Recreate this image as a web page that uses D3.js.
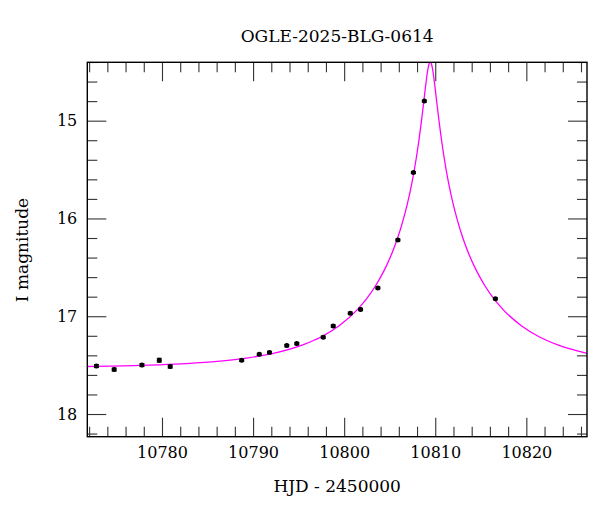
<!DOCTYPE html>
<html>
<head>
<meta charset="utf-8">
<script src="https://cdn.jsdelivr.net/npm/d3@7"></script>
<style>
  body { margin: 0; background: #fff; }
  text { font-family: "DejaVu Serif", serif; fill: #000; }
</style>
</head>
<body>
<div id="Chart"></div>
<script>
// observed points (HJD - 2450000, I mag, error)
var obsT = [10772.8, 10774.75, 10777.8, 10779.7, 10780.9, 10788.75, 10790.68, 10791.8, 10793.7, 10794.8,
            10797.7, 10798.8, 10800.67, 10801.8, 10803.7, 10805.9, 10807.6, 10808.8, 10816.6];
var obsMag = [17.51, 17.545, 17.50, 17.45, 17.515, 17.45, 17.39, 17.37, 17.30, 17.28,
              17.215, 17.10, 16.97, 16.93, 16.71, 16.22, 15.53, 14.80, 16.82];
var obsErr = [0.015, 0.015, 0.015, 0.02, 0.015, 0.012, 0.012, 0.012, 0.012, 0.012,
              0.012, 0.012, 0.012, 0.012, 0.01, 0.01, 0.01, 0.01, 0.01];

// model curve
var modelT = [10771.8, 10777.45, 10781.45, 10785.45, 10789.45, 10792.45, 10795.45, 10797.45, 10799.45, 10801.45,
              10802.45, 10803.45, 10804.45, 10805.45, 10805.95, 10806.45, 10806.95, 10807.45, 10807.95, 10808.45,
              10808.7, 10808.95, 10809.2, 10809.325, 10809.45, 10809.575, 10809.7, 10809.95, 10810.2, 10810.45,
              10810.95, 10811.45, 10811.95, 10812.45, 10812.95, 10813.45, 10814.45, 10815.45, 10816.45, 10817.45,
              10819.45, 10821.45, 10823.45, 10826.7];
var modelMag = [17.514, 17.503, 17.489, 17.466, 17.426, 17.375, 17.293, 17.212, 17.097, 16.932,
                16.823, 16.688, 16.521, 16.308, 16.177, 16.025, 15.846, 15.630, 15.364, 15.030,
                14.837, 14.638, 14.469, 14.418, 14.399, 14.418, 14.469, 14.638, 14.837, 15.030,
                15.364, 15.630, 15.846, 16.025, 16.177, 16.308, 16.521, 16.688, 16.823, 16.932,
                17.097, 17.212, 17.293, 17.38];

var xMajor = [10780, 10790, 10800, 10810, 10820];
var yMajor = [15, 16, 17, 18];

var svgWidth = 600;
var svgHeight = 512;
var chartMargin = { top: 62.3, right: 13, bottom: 75.3, left: 87.3 };
var chartWidth = svgWidth - chartMargin.left - chartMargin.right;
var chartHeight = svgHeight - chartMargin.top - chartMargin.bottom;

var svg = d3.select("#Chart").append("svg")
    .attr("width", svgWidth)
    .attr("height", svgHeight);
var chartGroup = svg.append("g")
    .attr("transform", `translate(${chartMargin.left}, ${chartMargin.top})`);

var xScale = d3.scaleLinear().domain([10771.8, 10826.66]).range([0, chartWidth]);
var yScale = d3.scaleLinear().domain([14.403, 18.232]).range([0, chartHeight]);

var xMinor = d3.range(10772, 10827, 2).filter(v => v % 10 !== 0);
var yMinor = d3.range(14.4, 18.25, 0.2).map(v => +v.toFixed(1)).filter(v => v % 1 !== 0);

// ticks, all pointing inward
function tickAxis(axis, vals, size, fmt) {
    return axis.tickValues(vals).tickSizeInner(size).tickSizeOuter(0).tickPadding(10).tickFormat(fmt);
}
var none = () => "";
var fmtX = d3.format("d");

var axes = [
    [d3.axisBottom(xScale), xMajor, -19, fmtX, `translate(0, ${chartHeight})`],
    [d3.axisBottom(xScale), xMinor, -10, none, `translate(0, ${chartHeight})`],
    [d3.axisTop(xScale), xMajor, -19, none, "translate(0, 0)"],
    [d3.axisTop(xScale), xMinor, -10, none, "translate(0, 0)"],
    [d3.axisLeft(yScale), yMajor, -19, d3.format("d"), "translate(0, 0)"],
    [d3.axisLeft(yScale), yMinor, -10, none, "translate(0, 0)"],
    [d3.axisRight(yScale), yMajor, -19, none, `translate(${chartWidth}, 0)`],
    [d3.axisRight(yScale), yMinor, -10, none, `translate(${chartWidth}, 0)`]
];
axes.forEach(function(a) {
    var g = chartGroup.append("g")
        .attr("transform", a[4])
        .call(tickAxis(a[0], a[1], a[2], a[3]));
    g.select(".domain").remove();
    g.selectAll(".tick line").attr("stroke", "#333").attr("stroke-width", 1.1);
    g.selectAll(".tick text")
        .style("font-family", "DejaVu Serif, serif")
        .style("font-size", "16px");
});

// clip for the model curve
chartGroup.append("clipPath").attr("id", "plotClip")
    .append("rect").attr("width", chartWidth).attr("height", chartHeight);

var line = d3.line()
    .x((d, i) => xScale(modelT[i]))
    .y((d, i) => yScale(modelMag[i]))
    .curve(d3.curveMonotoneX);

chartGroup.append("path")
    .datum(modelT)
    .attr("clip-path", "url(#plotClip)")
    .attr("d", line)
    .attr("fill", "none")
    .attr("stroke", "#ff00ff")
    .attr("stroke-width", 1.3);

// error bars and points
var pts = chartGroup.selectAll(".point")
    .data(obsT)
    .enter()
    .append("g")
    .attr("class", "point");
pts.append("line")
    .attr("x1", (d) => xScale(d)).attr("x2", (d) => xScale(d))
    .attr("y1", (d, i) => yScale(obsMag[i] - obsErr[i]))
    .attr("y2", (d, i) => yScale(obsMag[i] + obsErr[i]))
    .attr("stroke", "#000").attr("stroke-width", 1);
[-1, 1].forEach(function(s) {
    pts.append("line")
        .attr("x1", (d) => xScale(d) - 2.5).attr("x2", (d) => xScale(d) + 2.5)
        .attr("y1", (d, i) => yScale(obsMag[i] + s * obsErr[i]))
        .attr("y2", (d, i) => yScale(obsMag[i] + s * obsErr[i]))
        .attr("stroke", "#000").attr("stroke-width", 1);
});
pts.append("circle")
    .attr("cx", (d) => xScale(d))
    .attr("cy", (d, i) => yScale(obsMag[i]))
    .attr("r", 2.5)
    .attr("fill", "#000");

// frame
chartGroup.append("rect")
    .attr("width", chartWidth)
    .attr("height", chartHeight)
    .attr("fill", "none")
    .attr("stroke", "#000")
    .attr("stroke-width", 1.4);

// labels
svg.append("text")
    .attr("x", chartMargin.left + chartWidth / 2)
    .attr("y", 42)
    .attr("text-anchor", "middle")
    .style("font-size", "17px")
    .text("OGLE-2025-BLG-0614");
svg.append("text")
    .attr("x", chartMargin.left + chartWidth / 2)
    .attr("y", 492)
    .attr("text-anchor", "middle")
    .style("font-size", "17px")
    .text("HJD - 2450000");
svg.append("text")
    .attr("transform", "translate(28, 250) rotate(-90)")
    .attr("text-anchor", "middle")
    .style("font-size", "17px")
    .text("I magnitude");
</script>
</body>
</html>
